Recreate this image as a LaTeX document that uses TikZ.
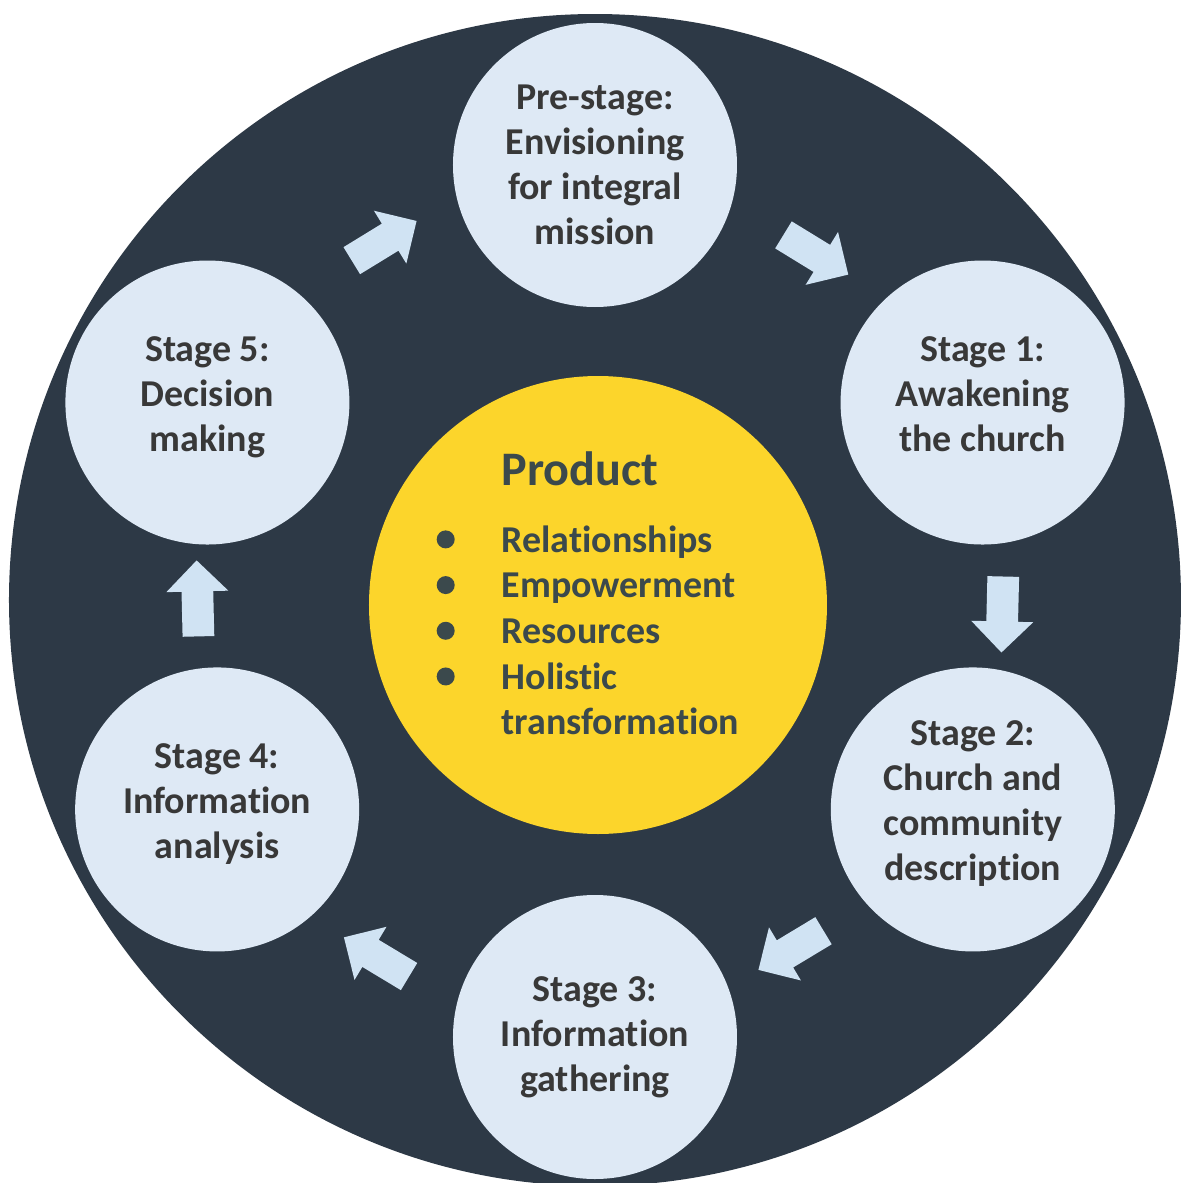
\documentclass[tikz,border=0pt]{standalone}
\usepackage{fontspec}
\setmainfont{Carlito}[Ligatures=NoCommon]
\usetikzlibrary{shapes.arrows}
\definecolor{ringdark}{HTML}{2D3946}
\definecolor{stagefill}{HTML}{DEE9F5}
\definecolor{flowfill}{HTML}{D0E3F3}
\definecolor{prodfill}{HTML}{FCD52B}
\definecolor{stagetext}{HTML}{383838}
\definecolor{prodtext}{HTML}{3B494C}
\newcommand{\prodbullet}{\tikz[baseline=-3.6pt]\fill[prodtext] (0,0) circle (0.09cm);}

\begin{document}
\begin{tikzpicture}
        \tikzset{
            stagebox/.style={circle,fill=stagefill,minimum size=2.84cm,inner sep=0pt,align=center,text=stagetext,font=\bfseries\fontsize{10.8}{12.8}\selectfont},
            raised/.style={text depth=5pt},
            prodbox/.style={circle,fill=prodfill,minimum size=4.58cm,inner sep=0pt},
            prodlist/.style={inner sep=0pt,text=prodtext,font=\bfseries\fontsize{10.8}{13}\selectfont},
            flow/.style={single arrow,fill=flowfill,minimum height=0.76cm,minimum width=0.62cm,single arrow head extend=0.15cm,inner xsep=0pt,inner ysep=0.15cm,sloped,allow upside down}
        }
        \useasboundingbox (-5.95,-5.83) rectangle (5.86,6.00);
        \fill[ringdark] (0,0) circle (5.86);
        \node[prodbox] (prod) at (0.03,-0.05) {};
        \node[prodlist] (list) at ([shift={(-0.10,0.05)}]prod.center) {%
            \begin{tabular}{@{}c@{\hspace{0.47cm}}l@{}}
                & {\fontsize{13.7}{16}\selectfont Product}\\[6pt]
                \prodbullet & Relationships\\
                \prodbullet & Empowerment\\
                \prodbullet & Resources\\
                \prodbullet & Holistic\\
                & transformation
            \end{tabular}};
        \node[stagebox] (pre) at (90:4.35) {Pre-stage:\\Envisioning\\for integral\\mission};
        \node[stagebox,raised] (s1) at (27:4.35) {Stage 1:\\Awakening\\the church};
        \node[stagebox,raised] (s2) at (-29:4.32) {Stage 2:\\Church and\\community\\description};
        \node[stagebox] (s3) at (-90:4.37) {Stage 3:\\Information\\gathering};
        \node[stagebox,raised] (s4) at (-151:4.32) {Stage 4:\\Information\\analysis};
        \node[stagebox,raised] (s5) at (153:4.35) {Stage 5:\\Decision\\making};
        \path (pre.center) to[bend left=17] node[flow] {} (s1.center);
        \path (s1.center) to[bend left=12] node[flow] {} (s2.center);
        \path (s2.center) to[bend left=12] node[flow] {} (s3.center);
        \path (s3.center) to[bend left=20] node[flow] {} (s4.center);
        \path (s4.center) to[bend left=7] node[flow] {} (s5.center);
        \path (s5.center) to[bend left=20] node[flow] {} (pre.center);
    \end{tikzpicture}
\end{document}
